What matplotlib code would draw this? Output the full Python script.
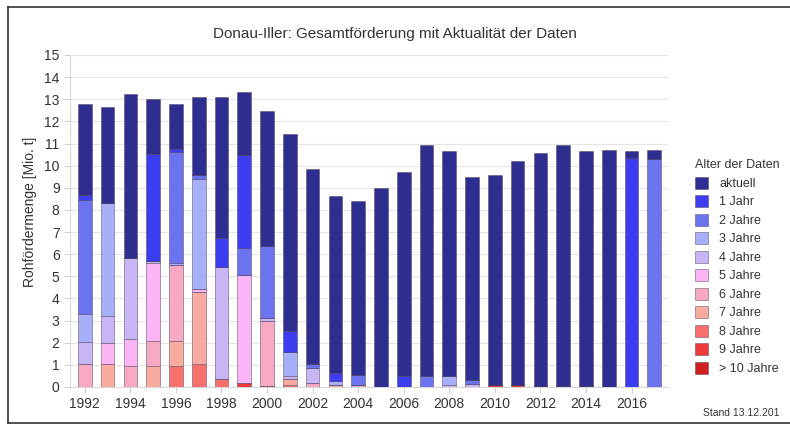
import matplotlib
matplotlib.use('Agg')
import numpy as np
import matplotlib.pyplot as plt
from matplotlib.lines import Line2D

plt.rcParams['font.family'] = ['Liberation Sans', 'DejaVu Sans']

# Jahre
years = list(range(1992, 2018))

# Fördermenge nach Alter der Daten [Mio. t], Reihenfolge 1992..2017
aktuell = [4.13, 4.35, 7.40, 2.45, 2.04, 3.54, 6.39, 2.86, 6.07, 8.90, 8.83, 8.01, 7.88,
           8.98, 9.23, 10.45, 10.19, 9.19, 9.45, 10.08, 10.50, 10.88, 10.62, 10.73, 0.30, 0.41]
jahr1 = [0.24, 0, 0, 4.85, 0.15, 0, 1.28, 4.19, 0, 0.93, 0, 0.38, 0,
         0, 0.49, 0, 0, 0, 0, 0, 0, 0, 0, 0, 10.35, 0]
jahre2 = [5.15, 0, 0, 0, 5.01, 0.15, 0, 1.25, 3.26, 0, 0.18, 0, 0.41,
          0, 0, 0.49, 0, 0.16, 0, 0, 0, 0, 0, 0, 0, 10.32]
jahre3 = [1.25, 5.09, 0, 0, 0.07, 5.00, 0, 0, 0, 1.10, 0, 0.15, 0,
          0, 0, 0, 0.42, 0, 0, 0, 0, 0, 0, 0, 0, 0]
jahre4 = [0.97, 1.26, 3.64, 0.07, 0, 0, 5.06, 0, 0.13, 0.11, 0.65, 0, 0,
          0, 0, 0, 0.07, 0.15, 0, 0, 0, 0, 0, 0, 0, 0]
jahre5 = [0, 0.91, 1.24, 3.52, 0, 0.10, 0, 4.85, 0, 0, 0, 0, 0,
          0, 0, 0, 0, 0, 0, 0, 0, 0, 0, 0, 0, 0]
jahre6 = [1.06, 0, 0.94, 1.16, 3.43, 0, 0, 0, 2.95, 0, 0.19, 0, 0.11,
          0, 0, 0, 0, 0, 0, 0, 0, 0, 0, 0, 0, 0]
jahre7 = [0, 1.06, 0, 0.94, 1.16, 3.25, 0, 0, 0, 0.27, 0, 0.11, 0,
          0, 0, 0, 0, 0, 0, 0, 0, 0, 0, 0, 0, 0]
jahre8 = [0, 0, 0, 0, 0.94, 1.06, 0.37, 0, 0, 0.11, 0, 0, 0,
          0, 0, 0, 0, 0, 0, 0, 0, 0, 0, 0, 0, 0]
jahre9 = [0, 0, 0, 0, 0, 0, 0, 0.19, 0, 0, 0, 0, 0,
          0, 0, 0, 0, 0, 0.11, 0.11, 0, 0, 0, 0, 0, 0]
jahre10 = [0, 0, 0, 0, 0, 0, 0, 0, 0.05, 0, 0, 0, 0,
           0, 0, 0, 0, 0, 0, 0, 0.05, 0.05, 0.05, 0, 0, 0]

labels = ['aktuell', '1 Jahr', '2 Jahre', '3 Jahre', '4 Jahre', '5 Jahre',
          '6 Jahre', '7 Jahre', '8 Jahre', '9 Jahre', '> 10 Jahre']
colors = ['#2d2e8f', '#3c3cf0', '#6b73ef', '#a7affa', '#c7b5f5', '#fbb5f7',
          '#f7a9c4', '#f9aba0', '#f7706e', '#ef3a3a', '#d0201f']
series = [aktuell, jahr1, jahre2, jahre3, jahre4, jahre5,
          jahre6, jahre7, jahre8, jahre9, jahre10]

fig = plt.figure(figsize=(7.9, 4.26), dpi=100)
ax = fig.add_axes([70/790, 1 - 387/426, (668 - 70)/790, (387 - 55)/426])

# gestapelt: älteste Daten unten
bottom = np.zeros(len(years))
handles = []
for vals, lab, col in reversed(list(zip(series, labels, colors))):
    vals = np.array(vals)
    b = ax.bar(years, vals, width=0.6, bottom=bottom, color=col, label=lab,
               edgecolor=(0.3, 0.25, 0.35, 0.55), linewidth=0.6, zorder=3)
    handles.append(b)
    bottom += vals
handles = handles[::-1]

ax.set_ylim(0, 15)
ax.set_xlim(1991.35, 2017.6)
ax.set_yticks(range(0, 16))
ax.set_xticks(range(1992, 2017, 2))
ax.grid(axis='y', color='#e4e4e4', linewidth=0.8, zorder=0)
for s in ['top', 'right']:
    ax.spines[s].set_visible(False)
for s in ['left', 'bottom']:
    ax.spines[s].set_color('#d8d8d8')
ax.tick_params(axis='both', colors='#d0d0d0', labelcolor='#333333', labelsize=10, length=4)
ax.set_ylabel('Rohfördermenge [Mio. t]', fontsize=10, color='#333333')
ax.yaxis.set_label_coords(-0.055, 0.527)

fig.text(0.5, 1 - 34/426, 'Donau-Iller: Gesamtförderung mit Aktualität der Daten',
         ha='center', va='center', fontsize=11, color='#333333')

leg = fig.legend(handles=handles, labels=labels, loc='upper left',
                 bbox_to_anchor=(684/790, 1 - 148/426), frameon=False,
                 title='Alter der Daten', fontsize=9, title_fontsize=9,
                 handlelength=1.0, handleheight=1.1, labelspacing=0.42,
                 handletextpad=0.9, alignment='left')
for t in leg.get_texts():
    t.set_color('#333333')
leg.get_title().set_color('#333333')

fig.text(703/790, 1 - 413/426, 'Stand 13.12.201', ha='left', va='center',
         fontsize=7.5, color='#333333')

# Rahmen
fig.add_artist(Line2D([8/790, 8/790], [3/426, 1 - 7/426], color='#333333', lw=1.2))
fig.add_artist(Line2D([8/790, 1], [1 - 7/426, 1 - 7/426], color='#333333', lw=1.2))
fig.add_artist(Line2D([8/790, 1], [3/426, 3/426], color='#333333', lw=1.2))

plt.savefig('out.png', dpi=100)
plt.close()
